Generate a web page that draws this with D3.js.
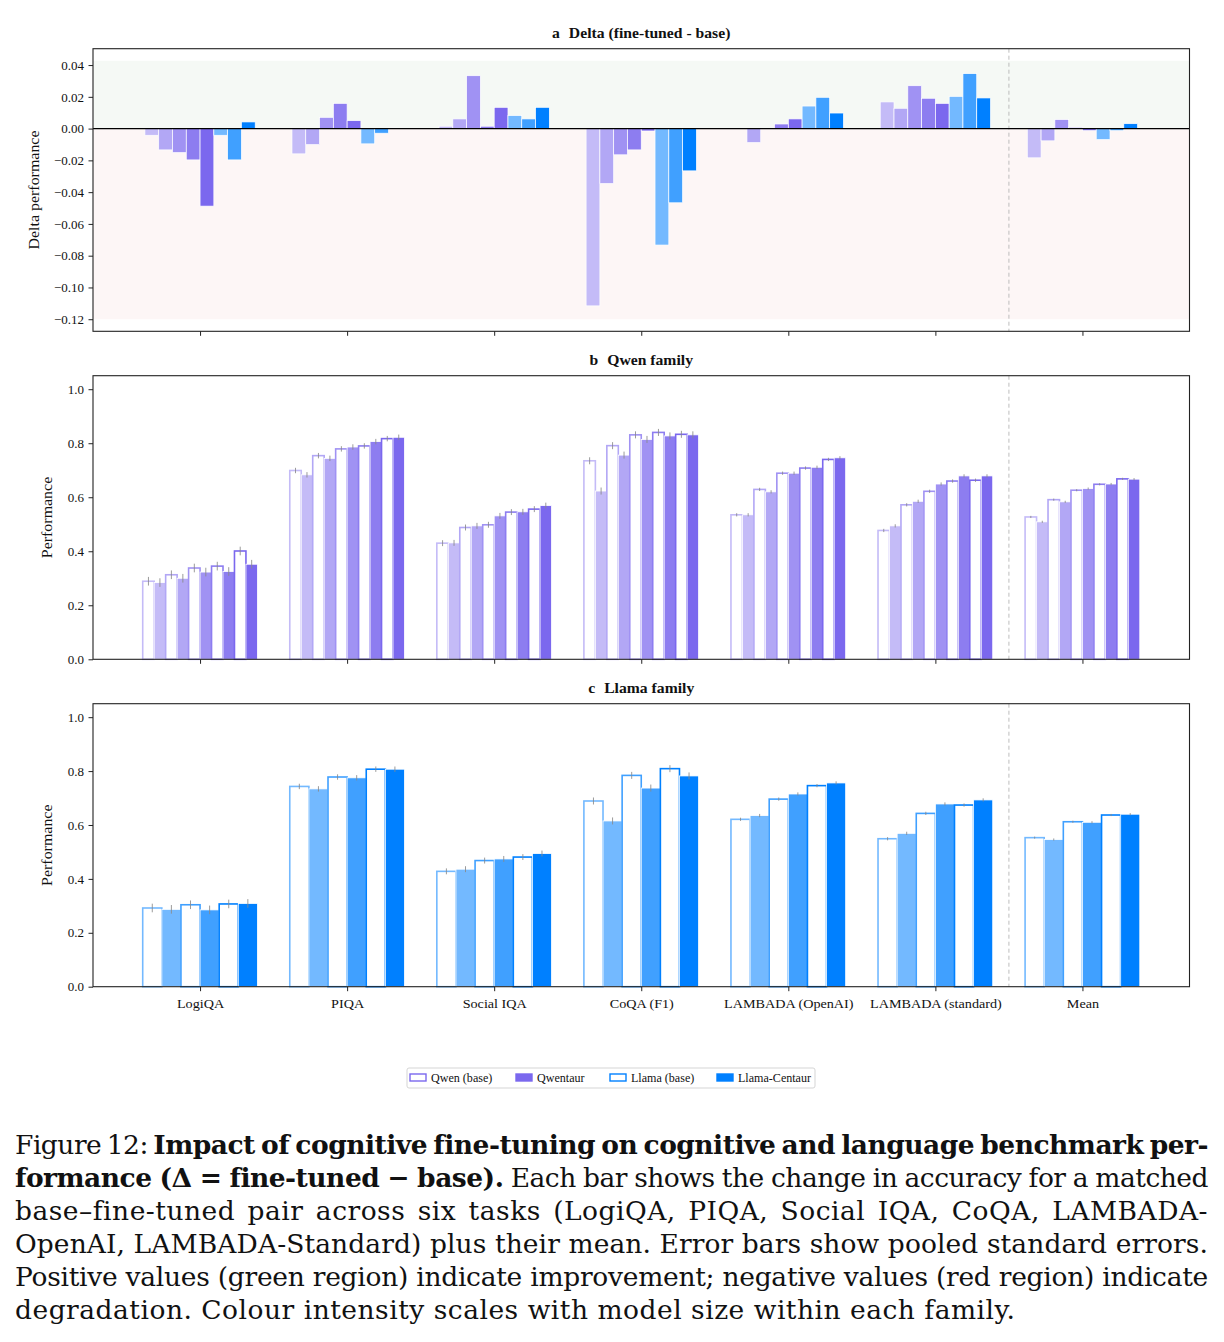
<!DOCTYPE html>
<html>
<head>
<meta charset="utf-8">
<script src="https://cdn.jsdelivr.net/npm/d3@7"></script>
<style>
  html, body { margin: 0; padding: 0; background: #fff; }
  svg { display: block; }
</style>
</head>
<body>
<svg id="chart" width="1224" height="1342"></svg>
<script>
// ---------------- DATA ----------------
const tasks = ["LogiQA", "PIQA", "Social IQA", "CoQA (F1)", "LAMBADA (OpenAI)", "LAMBADA (standard)", "Mean"];

// Panel a: delta (fine-tuned - base), one row per model size (small -> large)
const qwenDelta = [
  [-0.0042, -0.0159, 0.0015, -0.1116, 0.0000, 0.0168, -0.0184],
  [-0.0134, -0.0101, 0.0061, -0.0346, -0.0088, 0.0128, -0.0077],
  [-0.0151, 0.0071, 0.0333, -0.0165, 0.0000, 0.0270, 0.0057],
  [-0.0197, 0.0159, 0.0015, -0.0134, 0.0029, 0.0191, 0.0008],
  [-0.0488, 0.0050, 0.0134, -0.0015, 0.0061, 0.0159, -0.0013]
];
const llamaDelta = [
  [-0.0042, -0.0096, 0.0082, -0.0733, 0.0142, 0.0203, -0.0069],
  [-0.0197, -0.0029, 0.0061, -0.0467, 0.0197, 0.0346, -0.0013],
  [0.0042, 0.0003, 0.0134, -0.0266, 0.0098, 0.0193, 0.0031]
];

// Panel b: Qwen family (base vs Qwentaur), one row per size
const qwenBase = [
  [0.289, 0.699, 0.430, 0.735, 0.535, 0.477, 0.527],
  [0.313, 0.754, 0.488, 0.791, 0.629, 0.572, 0.591],
  [0.338, 0.779, 0.498, 0.831, 0.689, 0.622, 0.626],
  [0.345, 0.790, 0.545, 0.840, 0.708, 0.660, 0.648],
  [0.401, 0.817, 0.556, 0.833, 0.740, 0.663, 0.668]
];
const qwenTuned = [
  [0.284, 0.683, 0.431, 0.623, 0.535, 0.494, 0.509],
  [0.300, 0.744, 0.494, 0.756, 0.620, 0.585, 0.583],
  [0.323, 0.786, 0.531, 0.814, 0.689, 0.649, 0.632],
  [0.325, 0.806, 0.546, 0.827, 0.711, 0.679, 0.649],
  [0.352, 0.822, 0.569, 0.831, 0.746, 0.679, 0.667]
];

// Panel c: Llama family (base vs Llama-Centaur)
const llamaBase = [
  [0.292, 0.743, 0.428, 0.689, 0.621, 0.549, 0.553],
  [0.304, 0.778, 0.468, 0.784, 0.696, 0.643, 0.612],
  [0.307, 0.807, 0.481, 0.809, 0.746, 0.674, 0.637]
];
const llamaTuned = [
  [0.287, 0.734, 0.436, 0.615, 0.635, 0.569, 0.546],
  [0.285, 0.775, 0.474, 0.737, 0.715, 0.678, 0.610],
  [0.309, 0.807, 0.494, 0.782, 0.756, 0.693, 0.640]
];

// pooled standard errors per task
const taskSE = [0.016, 0.010, 0.011, 0.013, 0.006, 0.006, 0.004];

const deltaTicks = [0.04, 0.02, 0.00, -0.02, -0.04, -0.06, -0.08, -0.10, -0.12];
const perfTicks = [0.0, 0.2, 0.4, 0.6, 0.8, 1.0];

const legendLabels = ["Qwen (base)", "Qwentaur", "Llama (base)", "Llama-Centaur"];
const panelTitles = [["a", "Delta (fine-tuned - base)"], ["b", "Qwen family"], ["c", "Llama family"]];

const captionLines = [
  [["Figure 12: ", false], ["Impact of cognitive fine-tuning on cognitive and language benchmark per-", true]],
  [["formance (\u0394 = fine-tuned \u2212 base).", true], [" Each bar shows the change in accuracy for a matched", false]],
  [["base\u2013fine-tuned pair across six tasks (LogiQA, PIQA, Social IQA, CoQA, LAMBADA-", false]],
  [["OpenAI, LAMBADA-Standard) plus their mean. Error bars show pooled standard errors.", false]],
  [["Positive values (green region) indicate improvement; negative values (red region) indicate", false]],
  [["degradation. Colour intensity scales with model size within each family.", false]]
];

// ---------------- STYLE ----------------
const FONT = "'Liberation Serif', 'Times New Roman', serif";
const CAPFONT = "'DejaVu Serif', 'Liberation Serif', serif";
const qwenHue = d3.color("#7b68ee");
const llamaHue = d3.color("#0080ff");
const qwenAlpha = [0.45, 0.58, 0.72, 0.86, 1.0];
const llamaAlpha = [0.55, 0.75, 1.0];
function blend(c, a) {
  const w = 255;
  return d3.rgb(w + (c.r - w) * a, w + (c.g - w) * a, w + (c.b - w) * a).formatHex();
}
const qwenCols = qwenAlpha.map(a => blend(d3.rgb(qwenHue), a));
const llamaCols = llamaAlpha.map(a => blend(d3.rgb(llamaHue), a));

const svg = d3.select("#chart").style("font-family", FONT);
svg.append("rect").attr("width", 1224).attr("height", 1342).attr("fill", "#fff");

const X0 = 93, X1 = 1189.5;
const x = d3.scaleLinear().domain([-0.728, 6.728]).range([X0, X1]);
const unit = x(1) - x(0);

const panels = [
  { top: 48.7, bottom: 331.3, domain: [-0.1276, 0.0503] },
  { top: 375.7, bottom: 659.3, domain: [0, 1.05] },
  { top: 703.7, bottom: 986.7, domain: [0, 1.05] }
];

function widen(sel, ax, k) {
  sel.attr("transform", function () {
    const prev = d3.select(this).attr("transform") || "";
    return `translate(${ax},0) scale(${k},1) translate(${-ax},0) ` + prev;
  });
}

function frame(i, yScale, ticks, fmt, ylabel, ylabelX, showX) {
  const p = panels[i];
  const g = svg.append("g");
  const ya = g.append("g").attr("transform", `translate(${X0},0)`)
    .call(d3.axisLeft(yScale).tickValues(ticks).tickFormat(fmt).tickSize(4.5).tickPadding(4.5).tickSizeOuter(0));
  ya.select(".domain").remove();
  ya.selectAll("line").attr("stroke", "#222").attr("stroke-width", 1);
  ya.selectAll("text").attr("font-size", 13).attr("font-family", FONT).attr("fill", "#111");
  const xa = g.append("g").attr("transform", `translate(0,${p.bottom})`)
    .call(d3.axisBottom(x).tickValues(d3.range(tasks.length))
      .tickFormat(d => showX ? tasks[d] : "").tickSize(4.5).tickPadding(7).tickSizeOuter(0));
  xa.select(".domain").remove();
  xa.selectAll("line").attr("stroke", "#222").attr("stroke-width", 1);
  xa.selectAll("text").attr("font-size", 13.5).attr("font-family", FONT).attr("fill", "#111")
    .attr("transform", "scale(1.05,1)");
  svg.append("text")
    .attr("transform", `translate(${ylabelX},${(p.top + p.bottom) / 2}) rotate(-90) scale(1.1,1)`)
    .attr("text-anchor", "middle").attr("font-size", 14.5).attr("fill", "#111")
    .text(ylabel);
  const cx = (X0 + X1) / 2;
  const t = svg.append("text").attr("x", cx).attr("y", p.top - 11)
    .attr("text-anchor", "middle").attr("font-size", 14).attr("font-weight", "bold").attr("fill", "#111");
  t.append("tspan").text(panelTitles[i][0]);
  t.append("tspan").attr("dx", 8).text(panelTitles[i][1]);
  widen(t, cx, 1.12);
}

function dashedSep(i) {
  const p = panels[i];
  svg.append("line").attr("x1", x(5.5)).attr("x2", x(5.5)).attr("y1", p.top).attr("y2", p.bottom)
    .attr("stroke", "#b5b5b5").attr("stroke-width", 0.9).attr("stroke-dasharray", "4,3");
}
function box(i) {
  const p = panels[i];
  svg.append("rect").attr("x", X0).attr("y", p.top).attr("width", X1 - X0).attr("height", p.bottom - p.top)
    .attr("fill", "none").attr("stroke", "#222").attr("stroke-width", 1.1);
}

// ---------------- PANEL A ----------------
{
  const p = panels[0];
  const y = d3.scaleLinear().domain(p.domain).range([p.bottom, p.top]);
  svg.append("rect").attr("x", X0).attr("width", X1 - X0).attr("y", y(0.0427)).attr("height", y(0) - y(0.0427)).attr("fill", "#f5f9f5");
  svg.append("rect").attr("x", X0).attr("width", X1 - X0).attr("y", y(0)).attr("height", y(-0.12) - y(0)).attr("fill", "#fdf6f6");
  dashedSep(0);
  const series = qwenDelta.map((v, k) => ({ v, c: qwenCols[k] })).concat(llamaDelta.map((v, k) => ({ v, c: llamaCols[k] })));
  const n = series.length;
  const w = 0.75 / n;
  series.forEach((s, k) => {
    svg.append("g").selectAll("rect").data(s.v).join("rect")
      .attr("x", (d, t) => x(t + (k - (n - 1) / 2) * w - w / 2))
      .attr("width", w * unit)
      .attr("y", d => y(Math.max(0, d)))
      .attr("height", d => Math.abs(y(d) - y(0)))
      .attr("fill", s.c).attr("stroke", "#fff").attr("stroke-width", 0.7);
  });
  svg.append("line").attr("x1", X0).attr("x2", X1).attr("y1", y(0)).attr("y2", y(0)).attr("stroke", "#000").attr("stroke-width", 1.4);
  frame(0, y, deltaTicks, d3.format(".2f"), "Delta performance", 39, false);
  box(0);
}

// ---------------- PANELS B, C ----------------
function familyPanel(i, base, tuned, cols) {
  const p = panels[i];
  const y = d3.scaleLinear().domain(p.domain).range([p.bottom, p.top]);
  dashedSep(i);
  const n = base.length * 2;
  const w = 0.78 / n;
  const off = j => (j - (n - 1) / 2) * w;
  const gBars = svg.append("g");
  const gErr = svg.append("g");
  base.forEach((vals, k) => {
    const jb = 2 * k, jt = 2 * k + 1;
    gBars.append("g").selectAll("rect").data(vals).join("rect")
      .attr("x", (d, t) => x(t + off(jb) - w / 2)).attr("width", w * unit)
      .attr("y", d => y(d)).attr("height", d => y(0) - y(d))
      .attr("fill", "#fff").attr("stroke", cols[k]).attr("stroke-width", 1.6);
    gBars.append("g").selectAll("rect").data(tuned[k]).join("rect")
      .attr("x", (d, t) => x(t + off(jt) - w / 2)).attr("width", w * unit)
      .attr("y", d => y(d)).attr("height", d => y(0) - y(d))
      .attr("fill", cols[k]).attr("stroke", "#fff").attr("stroke-width", 0.8);
    [[vals, jb], [tuned[k], jt]].forEach(([arr, j]) => {
      gErr.append("g").selectAll("line").data(arr).join("line")
        .attr("x1", (d, t) => x(t + off(j))).attr("x2", (d, t) => x(t + off(j)))
        .attr("y1", (d, t) => y(d + taskSE[t])).attr("y2", (d, t) => y(d - taskSE[t]))
        .attr("stroke", "#8a8a8a").attr("stroke-width", 1).attr("opacity", 0.85);
    });
  });
  frame(i, y, perfTicks, d3.format(".1f"), "Performance", 52, i === 2);
  box(i);
}
familyPanel(1, qwenBase, qwenTuned, qwenCols);
familyPanel(2, llamaBase, llamaTuned, llamaCols);

// ---------------- LEGEND ----------------
{
  const lg = svg.append("g");
  lg.append("rect").attr("x", 407).attr("y", 1068).attr("width", 408).attr("height", 20).attr("rx", 2)
    .attr("fill", "#fff").attr("stroke", "#d0d0d0").attr("stroke-width", 0.9);
  const items = [
    { label: legendLabels[0], fill: "#fff", stroke: qwenCols[4], px: 410 },
    { label: legendLabels[1], fill: qwenCols[4], stroke: qwenCols[4], px: 516 },
    { label: legendLabels[2], fill: "#fff", stroke: llamaCols[2], px: 610 },
    { label: legendLabels[3], fill: llamaCols[2], stroke: llamaCols[2], px: 717 }
  ];
  items.forEach(it => {
    lg.append("rect").attr("x", it.px).attr("y", 1074).attr("width", 16).attr("height", 7)
      .attr("fill", it.fill).attr("stroke", it.stroke).attr("stroke-width", 1.4);
    const t = lg.append("text").attr("x", it.px + 21).attr("y", 1082).attr("font-size", 11.5).attr("fill", "#111").text(it.label);
    widen(t, it.px + 21, 1.05);
  });
}

// ---------------- CAPTION ----------------
{
  const cg = svg.append("g").style("font-family", CAPFONT);
  const left = 15, right = 1208, base0 = 1154, lh = 32.9;
  const last = captionLines.length - 1;
  captionLines.forEach((segs, li) => {
    const t = cg.append("text").attr("x", left).attr("y", base0 + li * lh).attr("font-size", 26.5).attr("fill", "#111");
    segs.forEach(([s, b]) => t.append("tspan").attr("font-weight", b ? "bold" : "normal").text(s));
    if (li === last) { t.attr("letter-spacing", 0.5); return; }
    const str = segs.map(s => s[0]).join("");
    const spaces = (str.match(/ /g) || []).length;
    const target = right - left;
    const nat = t.node().getComputedTextLength();
    const ls = Math.max(-0.5, Math.min(0.5, (target - nat) / (str.length - 1)));
    t.attr("letter-spacing", ls);
    const nat2 = t.node().getComputedTextLength();
    if (spaces > 0) t.attr("word-spacing", (target - nat2) / spaces);
  });
}
</script>
</body>
</html>
